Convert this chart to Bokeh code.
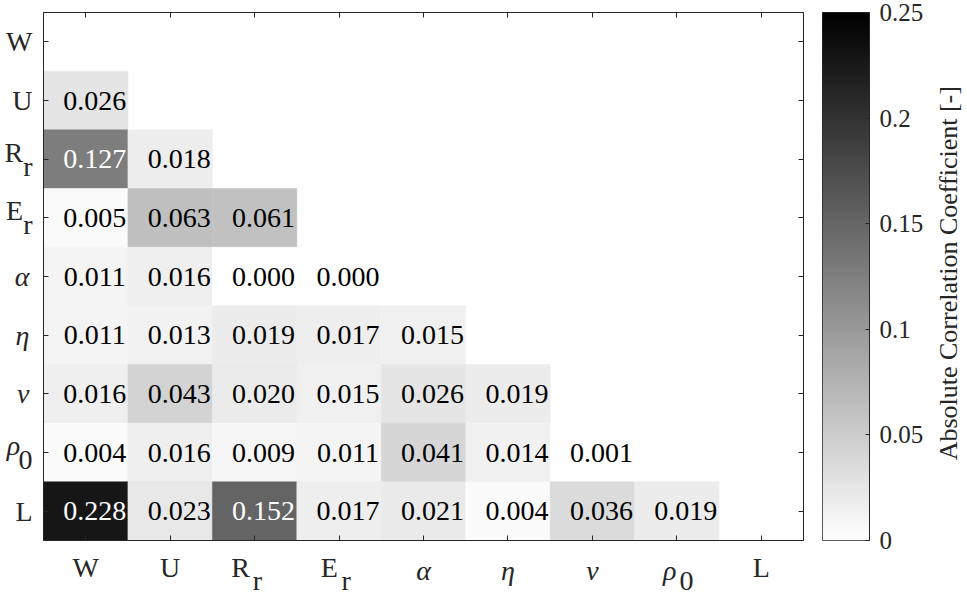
import numpy as np
from bokeh.plotting import figure
from bokeh.models import (ColumnDataSource, Range1d, FixedTicker, LinearAxis,
                          Label, LinearColorMapper)
from bokeh.transform import linear_cmap
from bokeh.palettes import Greys256
from bokeh.layouts import row
from bokeh.embed import file_html
from bokeh.resources import INLINE
from bokeh.core.properties import value

# ---------------- data ----------------
var_main = ["W", "U", "R", "E", "α", "η", "ν", "ρ", "L"]
var_sub = ["", "", "r", "r", "", "", "", "0", ""]
var_italic = [False, False, False, False, True, True, True, True, False]

corr_W = []
corr_U = [0.026]
corr_Rr = [0.127, 0.018]
corr_Er = [0.005, 0.063, 0.061]
corr_alpha = [0.011, 0.016, 0.000, 0.000]
corr_eta = [0.011, 0.013, 0.019, 0.017, 0.015]
corr_nu = [0.016, 0.043, 0.020, 0.015, 0.026, 0.019]
corr_rho0 = [0.004, 0.016, 0.009, 0.011, 0.041, 0.014, 0.001]
corr_L = [0.228, 0.023, 0.152, 0.017, 0.021, 0.004, 0.036, 0.019]
corr_rows = [corr_W, corr_U, corr_Rr, corr_Er, corr_alpha, corr_eta,
             corr_nu, corr_rho0, corr_L]

cbar_low = 0.0
cbar_high = 0.25
cbar_ticks = [0, 0.05, 0.1, 0.15, 0.2, 0.25]
cbar_tick_labels = ["0", "0.05", "0.1", "0.15", "0.2", "0.25"]
cbar_title = "Absolute Correlation Coefficient [-]"
white_text_threshold = 0.1

# ---------------- build table ----------------
n = len(var_main)
xs, ys, vals, txt, tcol = [], [], [], [], []
for i, r in enumerate(corr_rows):
    for j, v in enumerate(r):
        xs.append(j + 0.5)
        ys.append(n - i - 0.5)
        vals.append(v)
        txt.append(f"{v:.3f}")
        tcol.append("#ffffff" if v > white_text_threshold else "#000000")
src = ColumnDataSource(dict(x=xs, y=ys, v=vals, label=txt, tcolor=tcol))

palette = list(Greys256)[::-1]  # white (low) -> black (high)
cmap = linear_cmap("v", palette, cbar_low, cbar_high)

FONT = "Liberation Serif"
AX = "#262626"
EM, EN, THIN, THREE = "\u2003", "\u2002", "\u2009", "\u2004"

# whitespace padding (layout only) so that a subscript sits right/below its letter
x_pad_main = {"R": EM, "E": EN + THIN, "ρ": EN}
x_pad_sub = {"R": THIN, "E": EN, "ρ": EN + THIN}

centers = [k + 0.5 for k in range(n)]
bx_lab, bx2_lab, ly_lab, ly2_lab = {}, {}, {}, {}
for k in range(n):
    m, s, it = var_main[k], var_sub[k], var_italic[k]
    cx = centers[k]
    cy = centers[n - 1 - k]
    if s:
        sub_x = "\n" + x_pad_sub[m] + s
        sub_y = "\n" + s
        if it:
            bx_lab[cx], bx2_lab[cx] = sub_x, m + x_pad_main[m]
            ly_lab[cy], ly2_lab[cy] = sub_y, m + THREE + "\n"
        else:
            bx_lab[cx], bx2_lab[cx] = m + x_pad_main[m] + sub_x, ""
            ly_lab[cy], ly2_lab[cy] = m + THREE + sub_y, ""
    else:
        if it:
            bx_lab[cx], bx2_lab[cx] = "", m
            ly_lab[cy], ly2_lab[cy] = "", m
        else:
            bx_lab[cx], bx2_lab[cx] = m, ""
            ly_lab[cy], ly2_lab[cy] = m, ""

# ---------------- heatmap ----------------
p = figure(frame_width=760, frame_height=528,
           x_range=Range1d(0, n), y_range=Range1d(0, n),
           output_backend="svg", toolbar_location=None,
           min_border_left=43, min_border_right=5, min_border_top=12,
           min_border_bottom=56)
p.title.visible = False
p.grid.visible = False
p.outline_line_color = AX
p.background_fill_color = "white"
p.border_fill_color = "white"

p.rect(x="x", y="y", width=1, height=1, source=src,
       fill_color=cmap, line_color=cmap, line_width=0.5)
p.text(x="x", y="y", text="label", text_color="tcolor", source=src,
       x_offset=9, text_font=value(FONT), text_font_size="28px",
       text_align="center", text_baseline="middle")

bx = p.below[0]
ly = p.left[0]
top_ax = LinearAxis()
right_ax = LinearAxis()
bx2 = LinearAxis()
ly2 = LinearAxis()
p.add_layout(top_ax, "above")
p.add_layout(right_ax, "right")
p.add_layout(bx2, "below")
p.add_layout(ly2, "left")

for ax in (bx, ly, top_ax, right_ax, bx2, ly2):
    ax.ticker = FixedTicker(ticks=centers)
    ax.major_tick_in = 5
    ax.major_tick_out = 0
    ax.minor_tick_line_color = None
    ax.axis_line_color = AX
    ax.major_tick_line_color = AX

for ax in (top_ax, right_ax):
    ax.major_label_overrides = {c: "" for c in centers}
    ax.major_label_text_color = None
    ax.major_label_text_alpha = 0
    ax.major_label_text_font_size = "1px"
    ax.major_label_standoff = 0

for ax in (bx2, ly2):
    ax.axis_line_color = None
    ax.major_tick_line_color = None
    ax.major_tick_in = 0

bx.major_label_overrides = bx_lab
bx2.major_label_overrides = bx2_lab
ly.major_label_overrides = ly_lab
ly2.major_label_overrides = ly2_lab
for ax in (bx, ly, bx2, ly2):
    ax.major_label_text_font = FONT
    ax.major_label_text_font_size = "28px"
    ax.major_label_text_color = AX
    ax.major_label_standoff = 11
    ax.major_label_text_line_height = 0.45
for ax in (bx2, ly2):
    ax.major_label_text_font_style = "italic"
bx2.major_label_standoff = 11 - 56   # overlay onto the first bottom axis
ly2.major_label_standoff = 11 - 39   # overlay onto the first left axis

# ---------------- colour bar ----------------
cb = figure(frame_width=47, frame_height=528, x_range=Range1d(0, 1),
            y_range=Range1d(cbar_low, cbar_high),
            output_backend="svg", toolbar_location=None,
            y_axis_location="right", x_axis_location=None,
            min_border_left=14, min_border_right=58, min_border_top=12,
            min_border_bottom=56)
cb.title.visible = False
cb.grid.visible = False
cb.outline_line_color = AX
cb.border_fill_color = "white"
grad = np.linspace(cbar_low, cbar_high, 256).reshape(256, 1)
mapper = LinearColorMapper(palette=palette, low=cbar_low, high=cbar_high)
cb.image(image=[grad], x=0, y=cbar_low, dw=1, dh=cbar_high - cbar_low,
         color_mapper=mapper)
ya = cb.yaxis[0]
ya.ticker = FixedTicker(ticks=cbar_ticks)
ya.major_label_overrides = {t: s for t, s in zip(cbar_ticks, cbar_tick_labels)}
ya.major_tick_in = 4
ya.major_tick_out = 0
ya.minor_tick_line_color = None
ya.axis_line_color = AX
ya.major_tick_line_color = AX
ya.major_label_standoff = 10
ya.major_label_text_font = FONT
ya.major_label_text_font_size = "25px"
ya.major_label_text_color = AX

# ---------------- colour bar title (narrow strip) ----------------
tf = figure(width=40, height=596, x_range=Range1d(0, 40),
            y_range=Range1d(0, 596), output_backend="svg",
            toolbar_location=None, x_axis_location=None,
            y_axis_location=None, min_border=0)
tf.title.visible = False
tf.outline_line_color = None
tf.border_fill_color = "white"
for g in tf.grid:
    g.visible = False
tf.add_layout(Label(x=21, y=300, text=cbar_title, angle=np.pi / 2,
                    text_align="center", text_baseline="alphabetic",
                    text_font=FONT, text_font_size="26px", text_color=AX))

layout = row(p, cb, tf)
open("out.html", "w").write(file_html(layout, INLINE))
